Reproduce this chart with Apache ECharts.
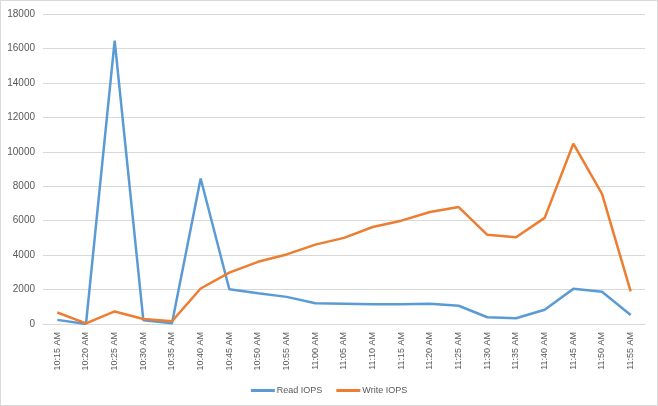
<!DOCTYPE html>
<html><head><meta charset="utf-8">
<script src="https://cdn.jsdelivr.net/npm/echarts@6/dist/echarts.min.js"></script>
<style>html,body{margin:0;padding:0;background:#fff}#c{width:658px;height:406px;box-sizing:border-box;border:1px solid #D9D9D9}</style>
</head><body><div id="c"></div>
<script>
var categories = ["10:15 AM","10:20 AM","10:25 AM","10:30 AM","10:35 AM","10:40 AM","10:45 AM","10:50 AM","10:55 AM","11:00 AM","11:05 AM","11:10 AM","11:15 AM","11:20 AM","11:25 AM","11:30 AM","11:35 AM","11:40 AM","11:45 AM","11:50 AM","11:55 AM"];
var readIOPS = [240,0,16450,220,50,8450,2020,1790,1575,1210,1180,1140,1140,1180,1060,390,330,830,2040,1870,520];
var writeIOPS = [670,40,730,290,160,2060,2980,3610,4040,4610,5000,5630,6000,6500,6790,5180,5040,6160,10470,7560,1890];
var seriesNames = ["Read IOPS","Write IOPS"];
var chart = echarts.init(document.getElementById('c'));
var txt = '#595959', font = 'Liberation Sans';
chart.setOption({
  animation:false,
  textStyle:{fontFamily:font},
  grid:{left:42,right:12,top:13,bottom:81,containLabel:false},
  legend:{bottom:5,left:'center',itemWidth:24,itemHeight:3,itemGap:14,icon:'rect',
    textStyle:{color:txt,fontSize:9,fontFamily:font,padding:[0,0,0,-3]},data:seriesNames},
  xAxis:{type:'category',data:categories,boundaryGap:true,
    axisLine:{lineStyle:{color:'#D9D9D9'}},axisTick:{show:false},
    axisLabel:{rotate:90,color:txt,fontSize:9,interval:0,margin:8,fontFamily:font}},
  yAxis:{type:'value',min:0,max:18000,interval:2000,
    axisLine:{show:false},axisTick:{show:false},
    splitLine:{lineStyle:{color:'#D9D9D9',width:1}},
    axisLabel:{color:txt,fontSize:10,margin:8,fontFamily:font,formatter:function(v){return String(v);}}},
  series:[
    {name:seriesNames[0],type:'line',data:readIOPS,symbol:'none',lineStyle:{color:'#5B9BD5',width:2.5},itemStyle:{color:'#5B9BD5'}},
    {name:seriesNames[1],type:'line',data:writeIOPS,symbol:'none',lineStyle:{color:'#ED7D31',width:2.5},itemStyle:{color:'#ED7D31'}}
  ]
});
</script></body></html>
